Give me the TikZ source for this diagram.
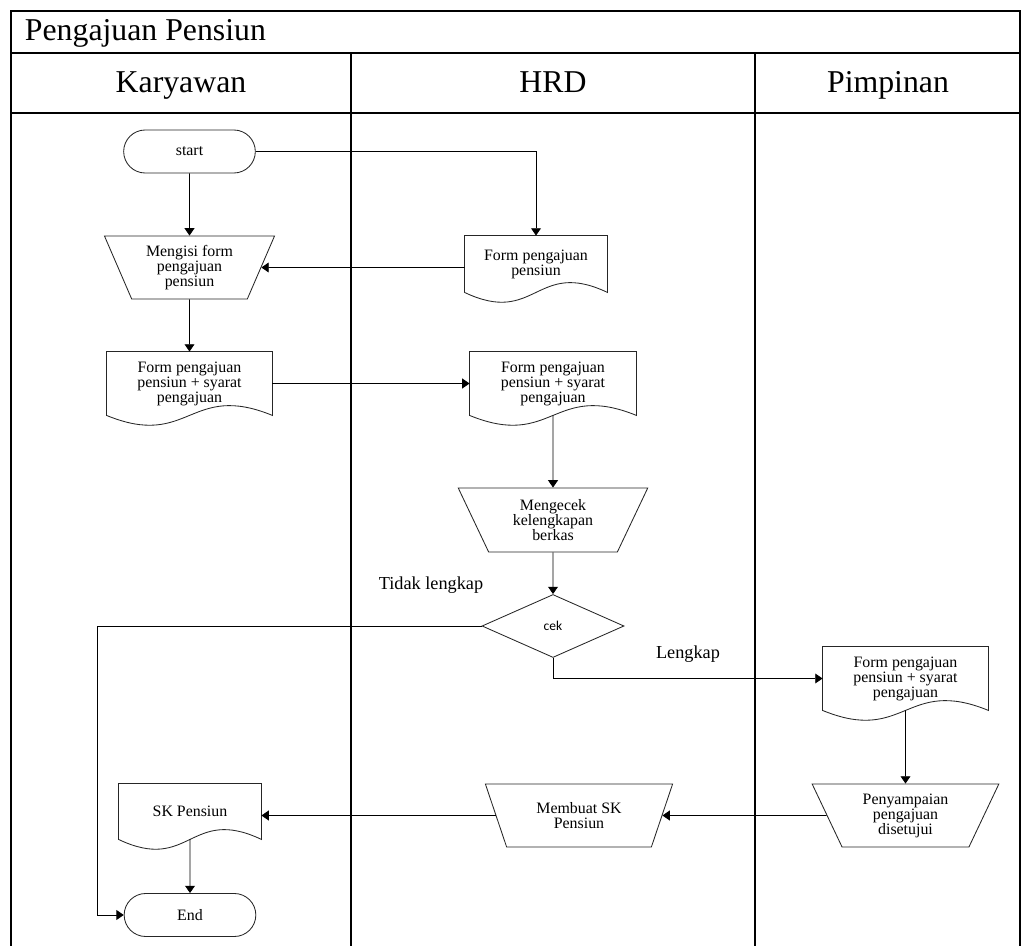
\documentclass[tikz,border=0pt]{standalone}
\usepackage{fontspec}
\setmainfont{Liberation Serif}
\newfontfamily\cekfont{Carlito}
\usetikzlibrary{arrows.meta,calc,shapes.geometric,shapes.misc}

\tikzset{
        flow/.style={draw=black!85, line width=0.6pt, align=center, font=\fontsize{11.3}{10.7}\selectfont},
        terminal/.style={flow, rounded rectangle, minimum width=3.525cm, minimum height=1.075cm},
        manual/.style={flow, trapezium, trapezium left angle=114, trapezium right angle=114, trapezium stretches=true, minimum height=1.575cm, inner sep=1pt},
        docbox/.style={flow, draw=none, rectangle, minimum height=1.575cm},
        decision/.style={flow, diamond, aspect=2.25, inner sep=0pt, minimum width=3.55cm, minimum height=1.575cm, font=\cekfont\fontsize{9.6}{11}\selectfont},
        conn/.style={line width=0.6pt, -{Triangle[length=5.2pt,width=7pt]}},
        lane/.style={line width=1.4pt},
        lanetext/.style={anchor=base, font=\fontsize{22.6}{26}\selectfont},
        cond/.style={font=\fontsize{13}{15}\selectfont}
}

\begin{document}
\begin{tikzpicture}[x=0.025cm, y=-0.025cm]
        \useasboundingbox (0,0) rectangle (1022,946);
        \draw[lane] (11,946) -- (11,11) -- (1020,11) -- (1020,946);
        \draw[lane] (11,53) -- (1020,53);
        \draw[lane] (11,113) -- (1020,113);
        \draw[lane] (351,53) -- (351,946);
        \draw[lane] (755,53) -- (755,946);
        \node[lanetext, anchor=base west] (title) at (20,41) {Pengajuan Pensiun};
        \node[lanetext] (karyawan) at (181,93) {Karyawan};
        \node[lanetext] (hrd) at (553,93) {HRD};
        \node[lanetext] (pimpinan) at (888,93) {Pimpinan};

        \node[terminal] (start) at (189.5,151.5) {start};
        \node[manual, minimum width=4.275cm] (mengisi) at (189.5,267.5) {Mengisi form\\pengajuan\\pensiun};
        \node[docbox, minimum width=3.55cm, minimum height=1.4cm] (hform) at (536,264) {Form pengajuan\\pensiun};
        \node[docbox, minimum width=4.125cm] (lform) at (189.5,383.5) {Form pengajuan\\pensiun + syarat\\pengajuan};
        \node[docbox, minimum width=4.15cm] (hform2) at (553,383.5) {Form pengajuan\\pensiun + syarat\\pengajuan};
        \node[manual, minimum width=4.775cm, minimum height=1.6cm] (cekberkas) at (553,520) {Mengecek\\kelengkapan\\berkas};
        \node[decision] (cek) at (553,626) {cek};
        \node[docbox, minimum width=4.125cm] (pform) at (905.5,678.5) {Form pengajuan\\pensiun + syarat\\pengajuan};
        \node[manual, minimum width=4.675cm] (setuju) at (905.5,815.5) {Penyampaian\\pengajuan\\disetujui};
        \node[manual, minimum width=4.7cm] (buatsk) at (579,815.5) {Membuat SK\\Pensiun};
        \node[docbox, minimum width=3.55cm, minimum height=1.375cm] (sk) at (190,811.5) {SK Pensiun};
        \node[terminal] (end) at (190,915) {End};
        \node[cond] (tidak) at (431,585) {Tidak lengkap};
        \node[cond] (lengkap) at (688,654) {Lengkap};

        \foreach \d in {hform,lform,hform2,pform,sk}
                \draw[draw=black!85, line width=0.6pt] (\d.north west) -- (\d.north east) -- (\d.south east)
                        .. controls ($(\d.south)+(0,0.85cm)$) and ($(\d.south)+(0,-0.85cm)$) .. (\d.south west) -- cycle;

        \draw[conn] (start) -- (mengisi);
        \draw[conn] (start) -| (hform);
        \draw[conn] (hform.west |- mengisi) -- (mengisi);
        \draw[conn] (mengisi) -- (lform);
        \draw[conn] (lform) -- (hform2);
        \draw[conn] (hform2) -- (cekberkas);
        \draw[conn] (cekberkas) -- (cek);
        \coordinate (back) at (97,626);
        \draw[conn] (cek) -- (back) |- (end);
        \draw[conn] (cek) |- (pform);
        \draw[conn] (pform) -- (setuju);
        \draw[conn] (setuju) -- (buatsk);
        \draw[conn] (buatsk) -- (buatsk -| sk.east);
        \draw[conn] (sk) -- (end);
\end{tikzpicture}
\end{document}
